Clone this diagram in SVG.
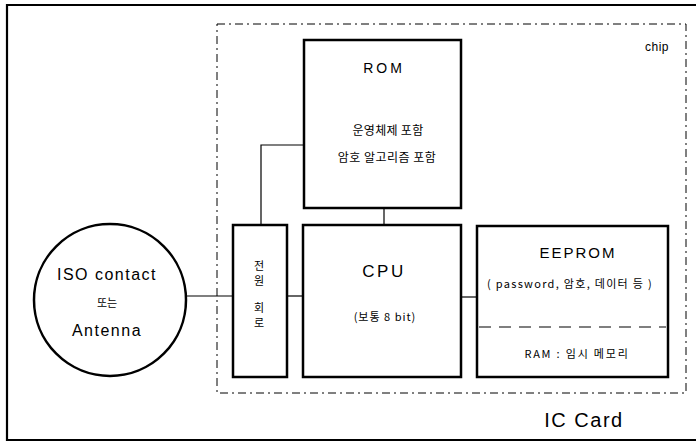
<svg xmlns="http://www.w3.org/2000/svg" width="696" height="444" viewBox="0 0 696 444">
<style>
.box{fill:#fff;stroke:#000;stroke-width:2.5}
.ln{fill:none;stroke:#000;stroke-width:1.2}
.t{font-family:"Liberation Sans","Noto Sans CJK KR",sans-serif;fill:#000;text-anchor:middle}
.k{font-family:"Noto Sans CJK KR","Liberation Sans",sans-serif;fill:#000;text-anchor:middle}
</style>
<rect x="0" y="0" width="696" height="444" fill="#fff"/>
<g id="ic-card">
<path d="M696 5 H7 V440 H696" fill="none" stroke="#000" stroke-width="2.2"/>
<text class="t" x="584" y="427" font-size="20" letter-spacing="1.5">IC Card</text>
</g>
<g id="chip">
<rect x="217" y="24" width="469" height="369" fill="none" stroke="#000" stroke-width="1" stroke-dasharray="8 4 2 4"/>
<text class="t" x="657" y="51" font-size="12" letter-spacing="0.5">chip</text>
</g>
<g id="connectors">
<line class="ln" x1="186" y1="296" x2="233" y2="296"/>
<line class="ln" x1="287" y1="296" x2="303" y2="296"/>
<line class="ln" x1="461" y1="297" x2="477" y2="297"/>
<line class="ln" x1="384" y1="208" x2="384" y2="225"/>
<polyline class="ln" points="261,225 261,145 303,145"/>
</g>
<g id="iso">
<circle cx="110" cy="300" r="76" fill="#fff" stroke="#000" stroke-width="2.5"/>
<text class="t" x="107" y="280" font-size="16" letter-spacing="1.5">ISO contact</text>
<text class="k" x="107" y="307" font-size="11">또는</text>
<text class="t" x="107" y="336" font-size="16" letter-spacing="1.5">Antenna</text>
</g>
<g id="rom">
<rect class="box" x="304" y="40" width="157" height="168"/>
<text class="t" x="384" y="73" font-size="14" letter-spacing="3">ROM</text>
<text class="k" x="388" y="135" font-size="12" letter-spacing="0.3">운영체제 포함</text>
<text class="k" x="387" y="162" font-size="12" letter-spacing="0.5">암호 알고리즘 포함</text>
</g>
<g id="power">
<rect class="box" x="233" y="225" width="54" height="152"/>
<text class="k" x="259" y="270" font-size="11">전</text>
<text class="k" x="259" y="285" font-size="11">원</text>
<text class="k" x="259" y="312" font-size="11">회</text>
<text class="k" x="259" y="327" font-size="11">로</text>
</g>
<g id="cpu">
<rect class="box" x="303" y="225" width="158" height="152"/>
<text class="t" x="384" y="277" font-size="17" letter-spacing="2.5">CPU</text>
<text class="k" x="385" y="321" font-size="11" letter-spacing="1">(보통 8 bit)</text>
</g>
<g id="eeprom">
<rect class="box" x="477" y="226" width="191" height="151"/>
<text class="t" x="578" y="258" font-size="15" letter-spacing="2">EEPROM</text>
<text class="k" x="570" y="288" font-size="11" letter-spacing="1.3">( password, 암호, 데이터 등 )</text>
<line x1="479" y1="327" x2="666" y2="327" stroke="#000" stroke-width="1.2" stroke-dasharray="12 8"/>
<text class="k" x="577" y="358" font-size="11" letter-spacing="1.8">RAM : 임시 메모리</text>
</g>
</svg>
